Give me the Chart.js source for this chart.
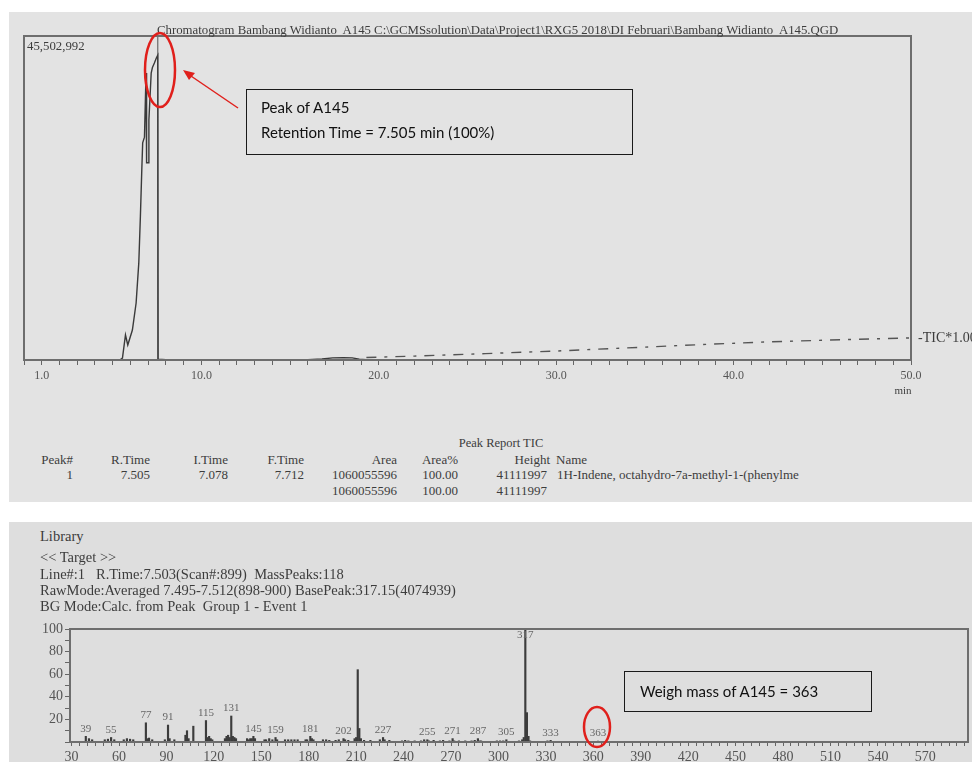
<!DOCTYPE html>
<html>
<head>
<meta charset="utf-8">
<script src="https://cdn.jsdelivr.net/npm/chart.js@4.4.1/dist/chart.umd.min.js"></script>
<style>
  html, body { margin: 0; padding: 0; background: #fff; width: 972px; height: 762px; overflow: hidden; }
  .panel { position: absolute; }
  #topPanel { left: 9px; top: 12px; width: 963px; height: 490px; background: #e3e3e3; }
  #bottomPanel { left: 9px; top: 522px; width: 963px; height: 240px; background: #dedede; }
  canvas { position: absolute; left: 0; }
  .txt { position: absolute; white-space: pre; font-family: "Liberation Serif", "DejaVu Serif", serif; color: #3c3c3c; line-height: 1; }
  .note { position: absolute; border: 1.5px solid #1a1a1a; box-sizing: border-box;
          font-family: Lato, "Open Sans", sans-serif; color: #111; font-size: 15px; }
</style>
</head>
<body>
<div class="panel" id="topPanel"></div>
<div class="panel" id="bottomPanel"></div>

<canvas id="chrom" width="972" height="400" style="top:0"></canvas>
<canvas id="spec" width="972" height="200" style="top:600px"></canvas>

<div id="texts"></div>

<div class="note" style="left:246px;top:89px;width:387px;height:66px;">
  <div style="position:absolute;left:14px;top:8px;">Peak of A145</div>
  <div style="position:absolute;left:14px;top:33px;">Retention Time = 7.505 min (100%)</div>
</div>
<div class="note" style="left:624px;top:671px;width:248px;height:41px;">
  <div style="position:absolute;left:15px;top:10px;">Weigh mass of A145 = 363</div>
</div>

<svg width="972" height="762" style="position:absolute;left:0;top:0;pointer-events:none">
  <ellipse cx="160" cy="70" rx="15" ry="37" fill="none" stroke="#e0201c" stroke-width="2.5"/>
  <line x1="238" y1="108" x2="188" y2="74" stroke="#e0201c" stroke-width="1.5"/>
  <path d="M183,70 L195,73 L189,80 z" fill="#e0201c"/>
  <ellipse cx="597" cy="727" rx="13" ry="20" fill="none" stroke="#e0201c" stroke-width="2.5"/>
</svg>

<script>
// --- chromatogram (TIC) ---
const chromTime = [0, 5.4, 5.55, 5.72, 5.85, 6.11, 6.32, 6.47, 6.56, 6.64, 6.69, 6.79, 6.88, 6.91, 6.99, 7.04, 7.17, 7.24, 7.35, 7.46, 7.54, 7.56, 8.0, 16.0, 16.8, 17.4, 18.0, 18.5, 18.9, 19.3];
const chromIntensity = [0, 0, 280000, 3510000, 2110000, 4210000, 8000000, 13600000, 20100000, 26700000, 30500000, 31300000, 40300000, 27700000, 27700000, 33700000, 40300000, 41100000, 41700000, 42400000, 42800000, 100000, 50000, 50000, 150000, 300000, 330000, 300000, 120000, 50000];
const baseTime = [19.3, 22, 26, 30, 34, 38, 42, 46, 50];
const baseIntensity = [350000, 550000, 900000, 1260000, 1700000, 2150000, 2550000, 2850000, 3100000];
const markerTime = [7.54, 7.54];
const markerIntensity = [0, 45502992];
const chromMax = 45502992;
const chromTickLabels = [1, 10, 20, 30, 40, 50];

// --- mass spectrum ---
const massMz = [39, 41, 43, 51, 53, 55, 57, 63, 65, 67, 69, 77, 78, 79, 81, 89, 91, 92, 95, 102, 103, 104, 107, 115, 116, 117, 118, 119, 127, 128, 129, 130, 131, 132, 133, 134, 141, 142, 143, 144, 145, 146, 152, 153, 155, 157, 159, 160, 165, 167, 169, 171, 173, 178, 179, 181, 182, 183, 189, 191, 193, 197, 199, 202, 203, 205, 209, 210, 211, 212, 213, 215, 219, 225, 227, 228, 231, 239, 241, 243, 247, 251, 253, 255, 256, 259, 263, 265, 269, 271, 272, 275, 279, 283, 285, 287, 288, 289, 299, 301, 303, 305, 313, 315, 316, 317, 318, 319, 320, 331, 333, 347, 363];
const massIntensity = [5, 3, 2, 2, 2.5, 4, 2, 2, 3, 2.5, 2, 17, 3, 3.5, 2, 2, 15, 3, 2, 6, 10, 3, 14, 19, 4, 5, 3, 2, 3, 5, 6, 4, 23, 5, 4, 3, 3, 2, 3, 3, 5, 3, 2, 2, 3, 2, 4, 2, 2, 2, 2, 2, 2, 2, 2, 5, 3, 2, 2, 2, 1.5, 1.5, 2, 3, 2, 1.5, 3, 4, 64, 12, 3, 1.5, 1.5, 2, 4, 2, 1.5, 1, 1.5, 1, 1, 1, 2, 2, 1, 1.5, 1, 1.5, 1, 3, 1, 1, 1, 1, 1.5, 3, 1, 1, 1, 1, 1, 2, 1, 2, 4, 100, 26, 5, 1, 1, 1.5, 0.5, 0.8];
const labelledMz = [39, 55, 77, 91, 115, 131, 145, 159, 181, 202, 227, 255, 271, 287, 305, 317, 333, 363];

const serif = '"Liberation Serif", "DejaVu Serif", serif';

// static texts of the instrument printout
const textItems = [
  ['Chromatogram Bambang Widianto  A145 C:\\GCMSsolution\\Data\\Project1\\RXG5 2018\\DI Februari\\Bambang Widianto  A145.QGD', 157, 30, 'left', 12.8],
  ['45,502,992', 27, 46, 'left', 12.8],
  ['-TIC*1.00', 918, 338, 'left', 14],
  ['min', 903, 390, 'center', 11],
  ['Peak Report TIC', 501, 443, 'center', 12.5],
  ['Peak#', 73, 459, 'right', 13], ['R.Time', 150, 459, 'right', 13], ['I.Time', 228, 459, 'right', 13],
  ['F.Time', 304, 459, 'right', 13], ['Area', 397, 459, 'right', 13], ['Area%', 458, 459, 'right', 13],
  ['Height', 550, 459, 'right', 13], ['Name', 556, 459, 'left', 13],
  ['1', 73, 474, 'right', 13], ['7.505', 150, 474, 'right', 13], ['7.078', 228, 474, 'right', 13],
  ['7.712', 304, 474, 'right', 13], ['1060055596', 397, 474, 'right', 13], ['100.00', 458, 474, 'right', 13],
  ['41111997', 547, 474, 'right', 13], ['1H-Indene, octahydro-7a-methyl-1-(phenylme', 557, 474, 'left', 13],
  ['1060055596', 397, 490, 'right', 13], ['100.00', 458, 490, 'right', 13], ['41111997', 547, 490, 'right', 13],
  ['Library', 40, 536, 'left', 14.5],
  ['<< Target >>', 40, 557, 'left', 14.5],
  ['Line#:1   R.Time:7.503(Scan#:899)  MassPeaks:118', 40, 574, 'left', 14.5],
  ['RawMode:Averaged 7.495-7.512(898-900) BasePeak:317.15(4074939)', 40, 590, 'left', 14.5],
  ['BG Mode:Calc. from Peak  Group 1 - Event 1', 40, 606, 'left', 14.5]
];

const holder = document.getElementById('texts');
textItems.forEach(([t, x, y, align, size]) => {
  const d = document.createElement('div');
  d.className = 'txt';
  d.textContent = t;
  d.style.fontSize = size + 'px';
  d.style.top = (y - size / 2) + 'px';
  if (align === 'left') d.style.left = x + 'px';
  else if (align === 'right') d.style.right = (972 - x) + 'px';
  else { d.style.left = x + 'px'; d.style.transform = 'translateX(-50%)'; }
  holder.appendChild(d);
});

// frame round the plot area
const boxPlugin = {
  id: 'plotBox',
  afterDraw(chart) {
    const a = chart.chartArea, ctx = chart.ctx;
    ctx.save();
    ctx.strokeStyle = '#6e6e6e';
    ctx.lineWidth = 2;
    ctx.strokeRect(a.left, a.top, a.right - a.left, a.bottom - a.top);
    ctx.restore();
  }
};

const toXY = (xs, ys) => xs.map((x, i) => ({ x: x, y: ys[i] }));

new Chart(document.getElementById('chrom'), {
  type: 'line',
  data: {
    datasets: [
      { data: toXY(chromTime, chromIntensity), borderColor: '#3a3a3a', borderWidth: 1.4, pointRadius: 0, tension: 0 },
      { data: toXY(markerTime, markerIntensity), borderColor: '#6a6a6a', borderWidth: 1.2, pointRadius: 0 },
      { data: toXY(baseTime, baseIntensity), borderColor: '#555', borderWidth: 1.4, pointRadius: 0, borderDash: [10, 8, 3, 8] }
    ]
  },
  options: {
    responsive: false,
    animation: false,
    devicePixelRatio: 1,
    layout: { padding: { left: 24, right: 61, top: 36, bottom: 0 } },
    plugins: { legend: { display: false }, tooltip: { enabled: false } },
    scales: {
      x: {
        type: 'linear', min: 0, max: 50,
        afterBuildTicks: s => { s.ticks = []; for (let v = 0; v <= 50; v++) s.ticks.push({ value: v }); },
        afterFit: s => { s.height = 40; },
        grid: { drawOnChartArea: false, drawTicks: true, tickLength: 5, color: '#666' },
        border: { color: '#6e6e6e', width: 2 },
        ticks: {
          autoSkip: false, maxRotation: 0, padding: 4, color: '#555',
          font: { family: serif, size: 12 },
          callback: v => chromTickLabels.includes(v) ? v.toFixed(1) : ''
        }
      },
      y: { display: false, min: 0, max: chromMax }
    }
  },
  plugins: [boxPlugin]
});

const peakLabelPlugin = {
  id: 'peakLabels',
  afterDatasetsDraw(chart) {
    const meta = chart.getDatasetMeta(0);
    const ctx = chart.ctx;
    ctx.save();
    ctx.font = '11px ' + serif;
    ctx.fillStyle = '#666';
    ctx.textAlign = 'center';
    ctx.textBaseline = 'bottom';
    labelledMz.forEach(mz => {
      const el = meta.data[massMz.indexOf(mz)];
      const y = Math.max(el.y - 2, chart.chartArea.top + 12);
      ctx.fillText(String(mz), el.x, y);
    });
    ctx.restore();
  }
};

new Chart(document.getElementById('spec'), {
  type: 'bar',
  data: {
    datasets: [{ data: toXY(massMz, massIntensity), backgroundColor: '#3c3c3c', barThickness: 1.5 }]
  },
  options: {
    responsive: false,
    animation: false,
    devicePixelRatio: 1,
    layout: { padding: { left: 0, right: 4, top: 29, bottom: 0 } },
    plugins: { legend: { display: false }, tooltip: { enabled: false } },
    scales: {
      x: {
        type: 'linear', min: 29, max: 597, offset: false,
        afterBuildTicks: s => { s.ticks = []; for (let v = 30; v <= 595; v += 5) s.ticks.push({ value: v }); },
        afterFit: s => { s.height = 58; },
        grid: { drawOnChartArea: false, drawTicks: true, tickLength: 4, color: '#666', offset: false },
        border: { color: '#6e6e6e', width: 2 },
        ticks: {
          autoSkip: false, maxRotation: 0, padding: 3, color: '#555',
          font: { family: serif, size: 14 },
          callback: v => v % 30 === 0 ? String(v) : ''
        }
      },
      y: {
        min: 0, max: 100,
        afterBuildTicks: s => { s.ticks = []; for (let v = 0; v <= 100; v += 10) s.ticks.push({ value: v }); },
        afterFit: s => { s.width = 70; },
        grid: { drawOnChartArea: false, drawTicks: true, tickLength: 5, color: '#666' },
        border: { color: '#6e6e6e', width: 2 },
        ticks: {
          autoSkip: false, padding: 2, color: '#555',
          font: { family: serif, size: 14 },
          callback: v => (v % 20 === 0 && v > 0) ? String(v) : ''
        }
      }
    }
  },
  plugins: [boxPlugin, peakLabelPlugin]
});
</script>
</body>
</html>
